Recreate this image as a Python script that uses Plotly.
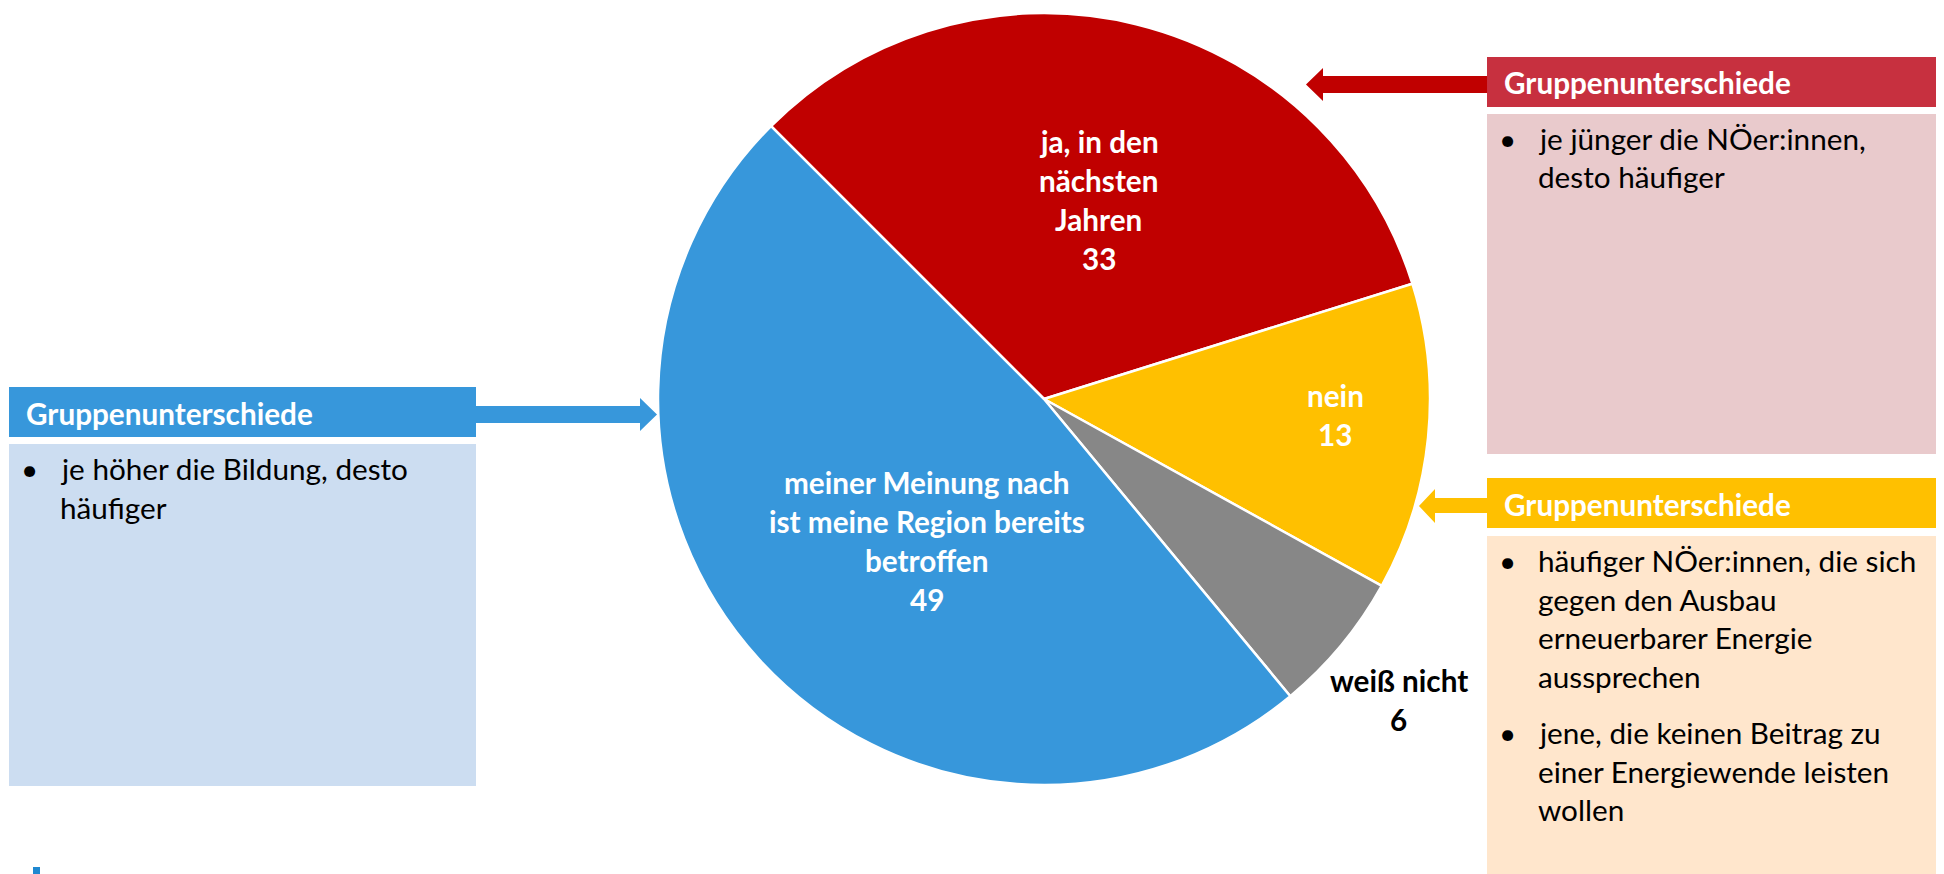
import math
import plotly.graph_objects as go

# ---------------- data ----------------
categories = ["ja, in den nächsten Jahren", "nein", "weiß nicht",
              "meiner Meinung nach ist meine Region bereits betroffen"]
values = [33, 13, 6, 49]
label_lines = [["ja, in den", "nächsten", "Jahren"],
               ["nein"],
               ["weiß nicht"],
               ["meiner Meinung nach", "ist meine Region bereits", "betroffen"]]

box_title = "Gruppenunterschiede"
left_bullets = [["je höher die Bildung, desto", "häufiger"]]
top_right_bullets = [["je jünger die NÖer:innen,", "desto häufiger"]]
bottom_right_bullets = [["häufiger NÖer:innen, die sich", "gegen den Ausbau",
                         "erneuerbarer Energie", "aussprechen"],
                        ["jene, die keinen Beitrag zu", "einer Energiewende leisten",
                         "wollen"]]

# ---------------- style ----------------
PAGE_W, PAGE_H = 1944, 874
OFF = 8                       # default body margin of the html page
W, H = PAGE_W - OFF, PAGE_H - OFF
slice_colors = ["#C00000", "#FFC000", "#878787", "#3797DB"]
label_colors = ["white", "white", "black", "white"]
label_radius = [0.535, 0.755, 1.205, 0.477]   # fraction of pie radius
label_nudge = [1.6, -2.7, 0.65, -8.2]          # degrees
FONT = "Lato, 'Open Sans', sans-serif"
FS = 29.7

CX, CY, R = 1044, 399, 386
ROTATION = -45


def px(x):
    return (x - OFF) / W


def py(y):
    return 1 - (y - OFF) / H


fig = go.Figure()
fig.add_trace(go.Pie(
    labels=categories, values=values, sort=False, direction="clockwise",
    rotation=ROTATION, textinfo="none", hoverinfo="label+value",
    marker=dict(colors=slice_colors, line=dict(color="white", width=2.5)),
    domain=dict(x=[px(CX - R), px(CX + R)], y=[py(CY + R), py(CY - R)]),
    showlegend=False,
))

annotations = []
shapes = []

# slice labels, positioned from the data (mid-angle of each slice)
total = sum(values)
acc = 0.0
for i, v in enumerate(values):
    mid = ROTATION + (acc + v / 2) / total * 360 + label_nudge[i]
    acc += v
    rad = math.radians(mid)
    lx = CX + label_radius[i] * R * math.sin(rad)
    ly = CY - label_radius[i] * R * math.cos(rad)
    lines = label_lines[i] + [str(v)]
    step = 39
    y0 = ly - step * (len(lines) - 1) / 2
    for k, t in enumerate(lines):
        annotations.append(dict(
            x=px(lx), y=py(y0 + k * step), xref="paper", yref="paper",
            text="<b>%s</b>" % t, showarrow=False, xanchor="center", yanchor="middle",
            font=dict(family=FONT, size=FS, color=label_colors[i])))


def add_box(x0, x1, hy0, hy1, by0, by1, head_col, body_col, bullets, line_step, para_gap):
    shapes.append(dict(type="rect", xref="paper", yref="paper", x0=px(x0), x1=px(x1),
                       y0=py(hy1), y1=py(hy0), fillcolor=head_col, line=dict(width=0), layer="below"))
    shapes.append(dict(type="rect", xref="paper", yref="paper", x0=px(x0), x1=px(x1),
                       y0=py(by1), y1=py(by0), fillcolor=body_col, line=dict(width=0), layer="below"))
    annotations.append(dict(x=px(x0 + 15), y=py((hy0 + hy1) / 2 + 1), xref="paper", yref="paper",
                            text="<b>%s</b>" % box_title, showarrow=False,
                            xanchor="left", yanchor="middle",
                            font=dict(family=FONT, size=FS, color="white")))
    y = by0 + 24.5
    for para in bullets:
        annotations.append(dict(x=px(x0 + 20.5), y=py(y), xref="paper", yref="paper", text="•",
                                showarrow=False, xanchor="center", yanchor="middle",
                                font=dict(family=FONT, size=FS, color="black")))
        for t in para:
            annotations.append(dict(x=px(x0 + 48.5), y=py(y), xref="paper", yref="paper", text=t,
                                    showarrow=False, xanchor="left", yanchor="middle",
                                    font=dict(family=FONT, size=FS, color="black")))
            y += line_step
        y += para_gap


add_box(9, 476, 387, 437, 444, 786, "#3797DB", "#CCDDF1", left_bullets, 38.5, 0)
add_box(1487, 1950, 57, 107, 114, 454, "#C7303F", "#E9CACC", top_right_bullets, 37.5, 0)
add_box(1487, 1950, 478, 528, 536, 880, "#FFC000", "#FFE6CC", bottom_right_bullets, 38.5, 18)


def arrow(x_tail, x_base, x_tip, sy0, sy1, hy0, hy1, color):
    pts = [(x_tail, sy0), (x_base, sy0), (x_base, hy0), (x_tip, (hy0 + hy1) / 2),
           (x_base, hy1), (x_base, sy1), (x_tail, sy1)]
    path = "M " + " L ".join("%.5f,%.5f" % (px(a), py(b)) for a, b in pts) + " Z"
    shapes.append(dict(type="path", xref="paper", yref="paper", path=path,
                       fillcolor=color, line=dict(width=0)))


arrow(476, 640, 657, 406, 423, 398, 431, "#3797DB")
arrow(1487, 1323, 1306, 76, 93, 68, 101, "#C00000")
arrow(1487, 1435, 1419, 498, 513, 489, 523, "#FFC000")

# small mark bottom left
shapes.append(dict(type="rect", xref="paper", yref="paper", x0=px(33), x1=px(40),
                   y0=py(880), y1=py(867), fillcolor="#1F88D0", line=dict(width=0)))

fig.update_layout(
    width=W, height=H, margin=dict(l=0, r=0, t=0, b=0),
    paper_bgcolor="white", plot_bgcolor="white",
    annotations=annotations, shapes=shapes, showlegend=False,
)
fig.write_html("out.html")
